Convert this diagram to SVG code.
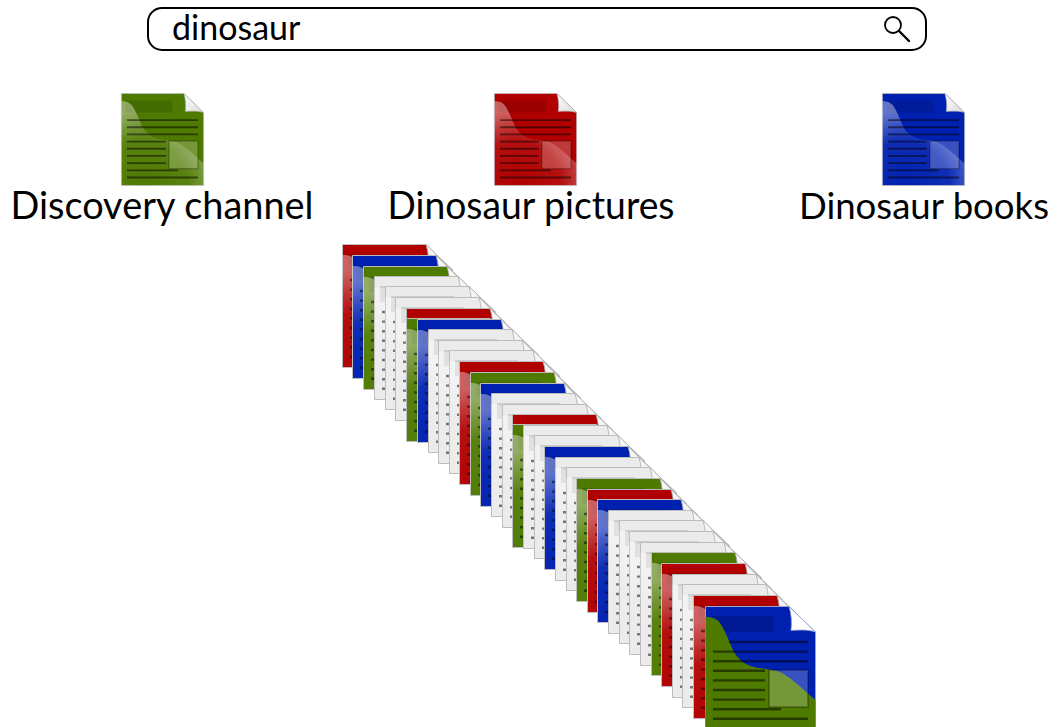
<svg xmlns="http://www.w3.org/2000/svg" width="1057" height="727" viewBox="0 0 1057 727">
  <style>
    .label { font-family: Lato, "Liberation Sans", sans-serif; font-size: 38.5px; fill: #000; text-anchor: middle; }
    .query { font-family: Lato, "Liberation Sans", sans-serif; font-size: 34px; fill: #000; }
    .red { color: #b00000; }
    .blue { color: #0020b0; }
    .green { color: #4e7a00; }
    .paper { color: #ebebeb; }
    .lines { stroke: #000; stroke-opacity: 0.5; stroke-width: 2.4; fill: none; }
  </style>
  <defs>
    <radialGradient id="gloss" gradientUnits="userSpaceOnUse" cx="30" cy="124" r="100">
      <stop offset="0" stop-color="#fff" stop-opacity="0"/>
      <stop offset="0.6" stop-color="#fff" stop-opacity="0.06"/>
      <stop offset="1" stop-color="#fff" stop-opacity="0.38"/>
    </radialGradient>
    <linearGradient id="flap" x1="0" y1="0" x2="1" y2="1">
      <stop offset="0" stop-color="#fff"/>
      <stop offset="1" stop-color="#d9d9d9"/>
    </linearGradient>
    <!-- document icon, 111 x 124 -->
    <symbol id="doc" viewBox="0 0 111 124" overflow="visible">
      <path d="M0.5,0.5H84L110.5,26V123.5H0.5Z" fill="currentColor" stroke="#bcbcbc"/>
      <rect x="6" y="10" width="63" height="16" fill="#000" opacity="0.12"/>
      <path d="M0.5,11 C7,11 11,12 15,17 C20,24 23,33 28,44 C32,52 38,58 49,61 C56,63 60,62 68,64 C80,66 90,76 110.5,94 V123.5 H0.5Z" fill="url(#gloss)"/>
      <path class="lines" d="M8,36H103 M8,45.6H103 M8,55.2H103 M8,64.8H60 M8,74.4H60 M8,84H60 M8,93.6H60 M8,103.2H76 M8,112.8H103"/>
      <rect x="64" y="64" width="39" height="37" fill="#fff" fill-opacity="0.22" stroke="#000" stroke-opacity="0.25" stroke-width="2"/>
      <path d="M84,0.5 L110.5,26 C104,23.5 93,24 86,24.5 C87,17 86.5,8 84,0.5Z" fill="url(#flap)" stroke="#a8a8a8" stroke-width="0.8"/>
    </symbol>
  </defs>

  <!-- search field -->
  <g id="search">
    <rect x="148" y="8" width="778" height="42" rx="14" fill="#fff" stroke="#000" stroke-width="2"/>
    <text class="query" x="172" y="40">dinosaur</text>
    <circle cx="893" cy="25" r="8" fill="none" stroke="#000" stroke-width="1.8"/>
    <line x1="899" y1="31" x2="909" y2="41" stroke="#000" stroke-width="2.4" stroke-linecap="round"/>
  </g>

  <!-- result categories -->
  <g id="discovery-channel">
    <use href="#doc" class="green" x="121" y="93" width="83" height="93"/>
    <text class="label" x="162" y="219" textLength="303" lengthAdjust="spacingAndGlyphs">Discovery channel</text>
  </g>
  <g id="dinosaur-pictures">
    <use href="#doc" class="red" x="494" y="93" width="83" height="93"/>
    <text class="label" x="531" y="219" textLength="287" lengthAdjust="spacingAndGlyphs">Dinosaur pictures</text>
  </g>
  <g id="dinosaur-books">
    <use href="#doc" class="blue" x="882" y="93" width="83" height="93"/>
    <text class="label" x="924" y="219" style="font-size:37.5px" textLength="250" lengthAdjust="spacingAndGlyphs">Dinosaur books</text>
  </g>

  <!-- unsorted result pile -->
  <g id="result-stack">
    <use href="#doc" class="red" x="342" y="244" width="111" height="124"/>
    <use href="#doc" class="blue" x="352" y="255" width="111" height="124"/>
    <use href="#doc" class="green" x="363" y="266" width="111" height="124"/>
    <use href="#doc" class="paper" x="374" y="276" width="111" height="124"/>
    <use href="#doc" class="paper" x="385" y="286" width="111" height="124"/>
    <use href="#doc" class="paper" x="395" y="297" width="111" height="124"/>
    <use href="#doc" class="red" x="406" y="308" width="111" height="124"/>
    <use href="#doc" class="green" x="406" y="318" width="111" height="124"/>
    <use href="#doc" class="blue" x="417" y="319" width="111" height="124"/>
    <use href="#doc" class="paper" x="428" y="329" width="111" height="124"/>
    <use href="#doc" class="paper" x="438" y="340" width="111" height="124"/>
    <use href="#doc" class="paper" x="449" y="350" width="111" height="124"/>
    <use href="#doc" class="red" x="459" y="361" width="111" height="124"/>
    <use href="#doc" class="green" x="470" y="372" width="111" height="124"/>
    <use href="#doc" class="blue" x="480" y="383" width="111" height="124"/>
    <use href="#doc" class="paper" x="491" y="393" width="111" height="124"/>
    <use href="#doc" class="paper" x="502" y="404" width="111" height="124"/>
    <use href="#doc" class="red" x="512" y="414" width="111" height="124"/>
    <use href="#doc" class="green" x="512" y="424" width="111" height="124"/>
    <use href="#doc" class="paper" x="523" y="425" width="111" height="124"/>
    <use href="#doc" class="paper" x="534" y="435" width="111" height="124"/>
    <use href="#doc" class="blue" x="544" y="446" width="111" height="124"/>
    <use href="#doc" class="paper" x="555" y="457" width="111" height="124"/>
    <use href="#doc" class="paper" x="566" y="467" width="111" height="124"/>
    <use href="#doc" class="green" x="576" y="478" width="111" height="124"/>
    <use href="#doc" class="red" x="587" y="489" width="111" height="124"/>
    <use href="#doc" class="blue" x="597" y="499" width="111" height="124"/>
    <use href="#doc" class="paper" x="608" y="510" width="111" height="124"/>
    <use href="#doc" class="paper" x="619" y="520" width="111" height="124"/>
    <use href="#doc" class="paper" x="629" y="531" width="111" height="124"/>
    <use href="#doc" class="paper" x="640" y="542" width="111" height="124"/>
    <use href="#doc" class="green" x="651" y="552" width="111" height="124"/>
    <use href="#doc" class="red" x="661" y="563" width="111" height="124"/>
    <use href="#doc" class="paper" x="672" y="574" width="111" height="124"/>
    <use href="#doc" class="paper" x="682" y="584" width="111" height="124"/>
    <use href="#doc" class="red" x="693" y="595" width="111" height="124"/>
    <!-- top sheet: blue page with a green wave -->
    <g id="top-sheet" transform="translate(705,606)">
      <path d="M0.5,0.5H84L110.5,26V123.5H0.5Z" fill="#0020b0" stroke="#9aa4c8"/>
      <rect x="6" y="10" width="63" height="16" fill="#000" opacity="0.15"/>
      <path d="M0.5,11 C7,11 11,12 15,17 C20,24 23,33 28,44 C32,52 38,58 49,61 C56,63 60,62 68,64 C80,66 90,76 110.5,94 V123.5 H0.5Z" fill="#4e7a00"/>
      <path class="lines" d="M24,36H103 M8,45.6H103 M8,55.2H103 M8,64.8H60 M8,74.4H60 M8,84H60 M8,93.6H60 M8,103.2H76 M8,112.8H103"/>
      <rect x="64" y="64" width="39" height="37" fill="#fff" fill-opacity="0.22" stroke="#000" stroke-opacity="0.25" stroke-width="2"/>
      <path d="M84,0.5 L110.5,26 C104,23.5 93,24 86,24.5 C87,17 86.5,8 84,0.5Z" fill="#fff" stroke="#8fa0d0" stroke-width="0.8"/>
    </g>
  </g>
</svg>
